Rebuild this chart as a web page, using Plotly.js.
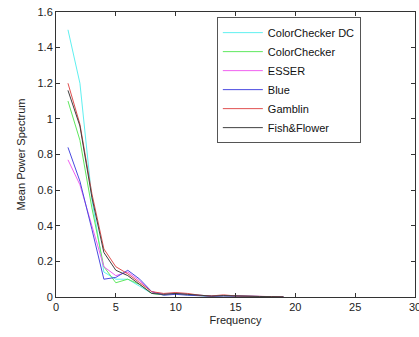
<!DOCTYPE html>
<html>
<head>
<meta charset="utf-8">
<script src="https://cdn.plot.ly/plotly-3.0.1.min.js"></script>
<style>
  html, body { margin: 0; padding: 0; background: #fff; }
  #chart { width: 419px; height: 337px; }
</style>
</head>
<body>
<div id="chart"></div>
<script>
// Mean power spectrum per chart set, sampled at integer frequencies
const frequency = [1, 2, 3, 4, 5, 6, 7, 8, 9, 10, 11, 12, 13, 14, 15, 16, 17, 18, 19];

const colorCheckerDC = [1.50, 1.20, 0.55, 0.14, 0.10, 0.10, 0.06, 0.02, 0.015, 0.02, 0.015, 0.008, 0.005, 0.008, 0.005, 0.004, 0.003, 0.002, 0.001];
const colorChecker   = [1.10, 0.88, 0.50, 0.17, 0.08, 0.10, 0.07, 0.02, 0.012, 0.018, 0.012, 0.006, 0.004, 0.006, 0.004, 0.003, 0.002, 0.001, 0.001];
const esser          = [0.77, 0.63, 0.40, 0.17, 0.12, 0.14, 0.09, 0.03, 0.015, 0.022, 0.015, 0.008, 0.005, 0.007, 0.005, 0.004, 0.003, 0.002, 0.001];
const blue           = [0.84, 0.65, 0.38, 0.10, 0.11, 0.15, 0.10, 0.03, 0.010, 0.015, 0.010, 0.006, 0.004, 0.006, 0.005, 0.004, 0.003, 0.002, 0.001];
const gamblin        = [1.20, 0.97, 0.58, 0.27, 0.17, 0.13, 0.08, 0.03, 0.020, 0.025, 0.020, 0.010, 0.006, 0.012, 0.006, 0.004, 0.003, 0.002, 0.001];
const fishFlower     = [1.16, 0.96, 0.56, 0.25, 0.15, 0.12, 0.07, 0.02, 0.015, 0.020, 0.015, 0.008, 0.005, 0.008, 0.005, 0.004, 0.003, 0.002, 0.001];

const seriesNames = ['ColorChecker DC', 'ColorChecker', 'ESSER', 'Blue', 'Gamblin', 'Fish&Flower'];
const seriesValues = [colorCheckerDC, colorChecker, esser, blue, gamblin, fishFlower];
const seriesColors = ['#5ff0f0', '#5ee85e', '#f060f0', '#4a4ae0', '#e05050', '#404040'];

const xTicks = [0, 5, 10, 15, 20, 25, 30];
const yTicks = [0, 0.2, 0.4, 0.6, 0.8, 1.0, 1.2, 1.4, 1.6];
const yTickText = ['0', '0.2', '0.4', '0.6', '0.8', '1', '1.2', '1.4', '1.6'];

const traces = seriesNames.map((name, i) => ({
  type: 'scatter',
  mode: 'lines',
  name: name,
  x: frequency,
  y: seriesValues[i],
  line: { color: seriesColors[i], width: 1 }
}));

const axisFont = { family: 'Liberation Sans, Arial, sans-serif', size: 11, color: '#222' };

const layout = {
  width: 419,
  height: 337,
  margin: { l: 56, r: 4, t: 12, b: 40 },
  paper_bgcolor: '#fff',
  plot_bgcolor: '#fff',
  font: axisFont,
  showlegend: true,
  legend: {
    x: 0.448, y: 0.982, xanchor: 'left', yanchor: 'top',
    bgcolor: '#fff',
    bordercolor: '#555',
    borderwidth: 1,
    font: { family: 'Liberation Sans, Arial, sans-serif', size: 11, color: '#111' },
    itemwidth: 40,
    tracegroupgap: 0
  },
  xaxis: {
    range: [0, 30],
    tickvals: xTicks,
    ticktext: xTicks.map(String),
    ticklabeloverflow: 'allow',
    ticks: 'inside', ticklen: 4, tickcolor: '#333',
    showline: true, linecolor: '#333', linewidth: 1, mirror: 'ticks',
    showgrid: false, zeroline: false,
    tickfont: axisFont,
    title: { text: 'Frequency', font: axisFont, standoff: 4 }
  },
  yaxis: {
    range: [0, 1.6],
    tickvals: yTicks,
    ticktext: yTickText,
    ticks: 'inside', ticklen: 4, tickcolor: '#333',
    showline: true, linecolor: '#333', linewidth: 1, mirror: 'ticks',
    showgrid: false, zeroline: false,
    tickfont: axisFont,
    title: { text: 'Mean Power Spectrum', font: axisFont, standoff: 9 }
  }
};

Plotly.newPlot('chart', traces, layout, { displayModeBar: false, staticPlot: true });
</script>
</body>
</html>
